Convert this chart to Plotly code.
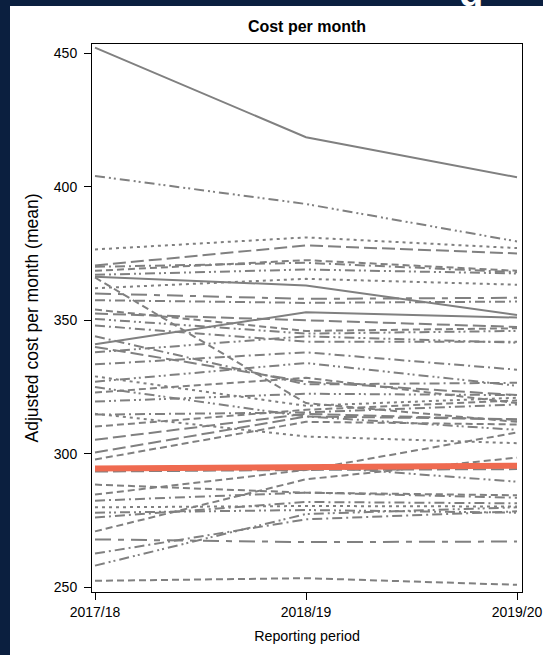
import plotly.graph_objects as go

periods = ["2017/18", "2018/19", "2019/20"]

# values for each gray line at 2017/18, 2018/19, 2019/20
v1718 = [452, 404, 376.5, 370.5, 370, 368.5, 367, 366.3, 366, 362, 360, 357.5, 354, 352.5,
         350.5, 341, 348, 338, 344, 340, 333.5, 327, 315, 271, 284.8, 297.9, 300.5, 305.3,
         310.2, 314.7, 319.6, 323, 325, 329, 294, 293.4, 288.5, 282.5, 280, 276.2, 278,
         262.7, 258.2, 268, 252.5]
v1819 = [418.5, 393.5, 381, 378, 371.5, 372.5, 369, 363, 319, 365.5, 358, 356.5, 346, 350,
         345, 353, 342, 344, 326, 327, 338, 334, 306.5, 290.5, 294, 312, 314, 315,
         316.5, 315.5, 322.5, 328.5, 314, 318, 295.5, 294, 285.5, 285.5, 280.5, 282, 279,
         275.5, 277.5, 267, 253.5]
v1920 = [403.5, 379.5, 377, 375, 368, 368.5, 367.5, 352, 312, 363.3, 358.4, 357, 347, 347.5,
         346, 351, 342, 341.6, 326.6, 322, 331.5, 325.5, 304, 298.6, 308, 311, 313, 312.8,
         320, 318.5, 322, 319, 309, 321, 289.6, 294.3, 284.5, 283.6, 280.3, 281.5, 278,
         278.5, 280, 267.2, 251]
line_styles = ["solid", "dashdotdot", "dot", "longdash", "dashdot", "dash", "dashdotdot", "solid",
               "dash", "dot", "longshort", "dashdot", "dash", "longdash", "dashdotdot", "solid",
               "dashdot", "dashdotdot", "dashdot", "longdash", "dashdot", "dashdotdot", "dot",
               "dash", "dash", "dash", "longdash", "longdash", "dash", "dashdot", "dashdotdot",
               "dash", "dashdotdot", "dot", "dashdotdot", "longdash", "dash", "dashdot", "dot",
               "dashdot", "dashdotdot", "dashdot", "dashdotdot", "longshort", "dash"]

# highlighted series
red_vals = [294.5, 295.2, 295.6]

dash_map = {
    "solid": "solid",
    "dash": "7px,4px",
    "longdash": "13px,5px",
    "dot": "3px,4px",
    "dashdot": "10px,4px,2px,4px",
    "dashdotdot": "10px,4px,2px,3px,2px,4px",
    "longshort": "16px,7px,6px,7px",
}

xpos = list(range(len(periods)))
fig = go.Figure()
for a, b, c, s in zip(v1718, v1819, v1920, line_styles):
    fig.add_trace(go.Scatter(x=xpos, y=[a, b, c], mode="lines",
                             line=dict(color="#808080", width=2, dash=dash_map[s]),
                             showlegend=False, hoverinfo="skip"))
fig.add_trace(go.Scatter(x=xpos, y=red_vals, mode="lines",
                         line=dict(color="#EF6A50", width=6),
                         showlegend=False, hoverinfo="skip"))

navy = "#0b1f3f"
fig.update_layout(
    width=543, height=655,
    paper_bgcolor=navy, plot_bgcolor="white",
    margin=dict(l=92, r=21, t=44, b=63, autoexpand=False),
    font=dict(family="Liberation Sans, Arial, sans-serif", color="black", size=14),
    title=dict(text="<b>Cost per month</b>", x=0.5, xanchor="center", xref="paper",
               y=1, yref="paper", yanchor="bottom", pad=dict(b=12),
               font=dict(size=16, color="black")),
    shapes=[dict(type="rect", xref="paper", yref="paper", layer="below",
                 x0=-82 / 430, x1=1 + 21 / 430, y0=-63 / 548, y1=1 + 38 / 548,
                 fillcolor="white", line=dict(width=0))],
    annotations=[dict(text="<b>g</b>", xref="paper", yref="paper",
                      x=(471 - 92) / 430, y=1 + 44 / 548, yanchor="bottom",
                      xanchor="center", showarrow=False, yshift=-16,
                      font=dict(size=40, color="white"))],
)
fig.update_xaxes(
    range=[-0.0142, 2.0237], tickvals=xpos, ticktext=periods,
    showline=True, linecolor="black", linewidth=1, mirror=True,
    ticks="outside", ticklen=7, tickcolor="black", showgrid=False, zeroline=False,
    ticklabeloverflow="allow", automargin=False,
    title=dict(text="Reporting period", standoff=12, font=dict(size=14.3)),
    tickfont=dict(size=14),
)
fig.update_yaxes(
    range=[248.32, 453.37], tickvals=[250, 300, 350, 400, 450],
    showline=True, linecolor="black", linewidth=1, mirror=True,
    ticks="outside", ticklen=7, tickcolor="black", showgrid=False, zeroline=False,
    ticklabelstandoff=4, automargin=False,
    title=dict(text="Adjusted cost per month (mean)", standoff=10, font=dict(size=17.5)),
    tickfont=dict(size=14),
)
fig.write_html("out.html", config={"displayModeBar": False},
               post_script="document.body.style.margin='0';")
